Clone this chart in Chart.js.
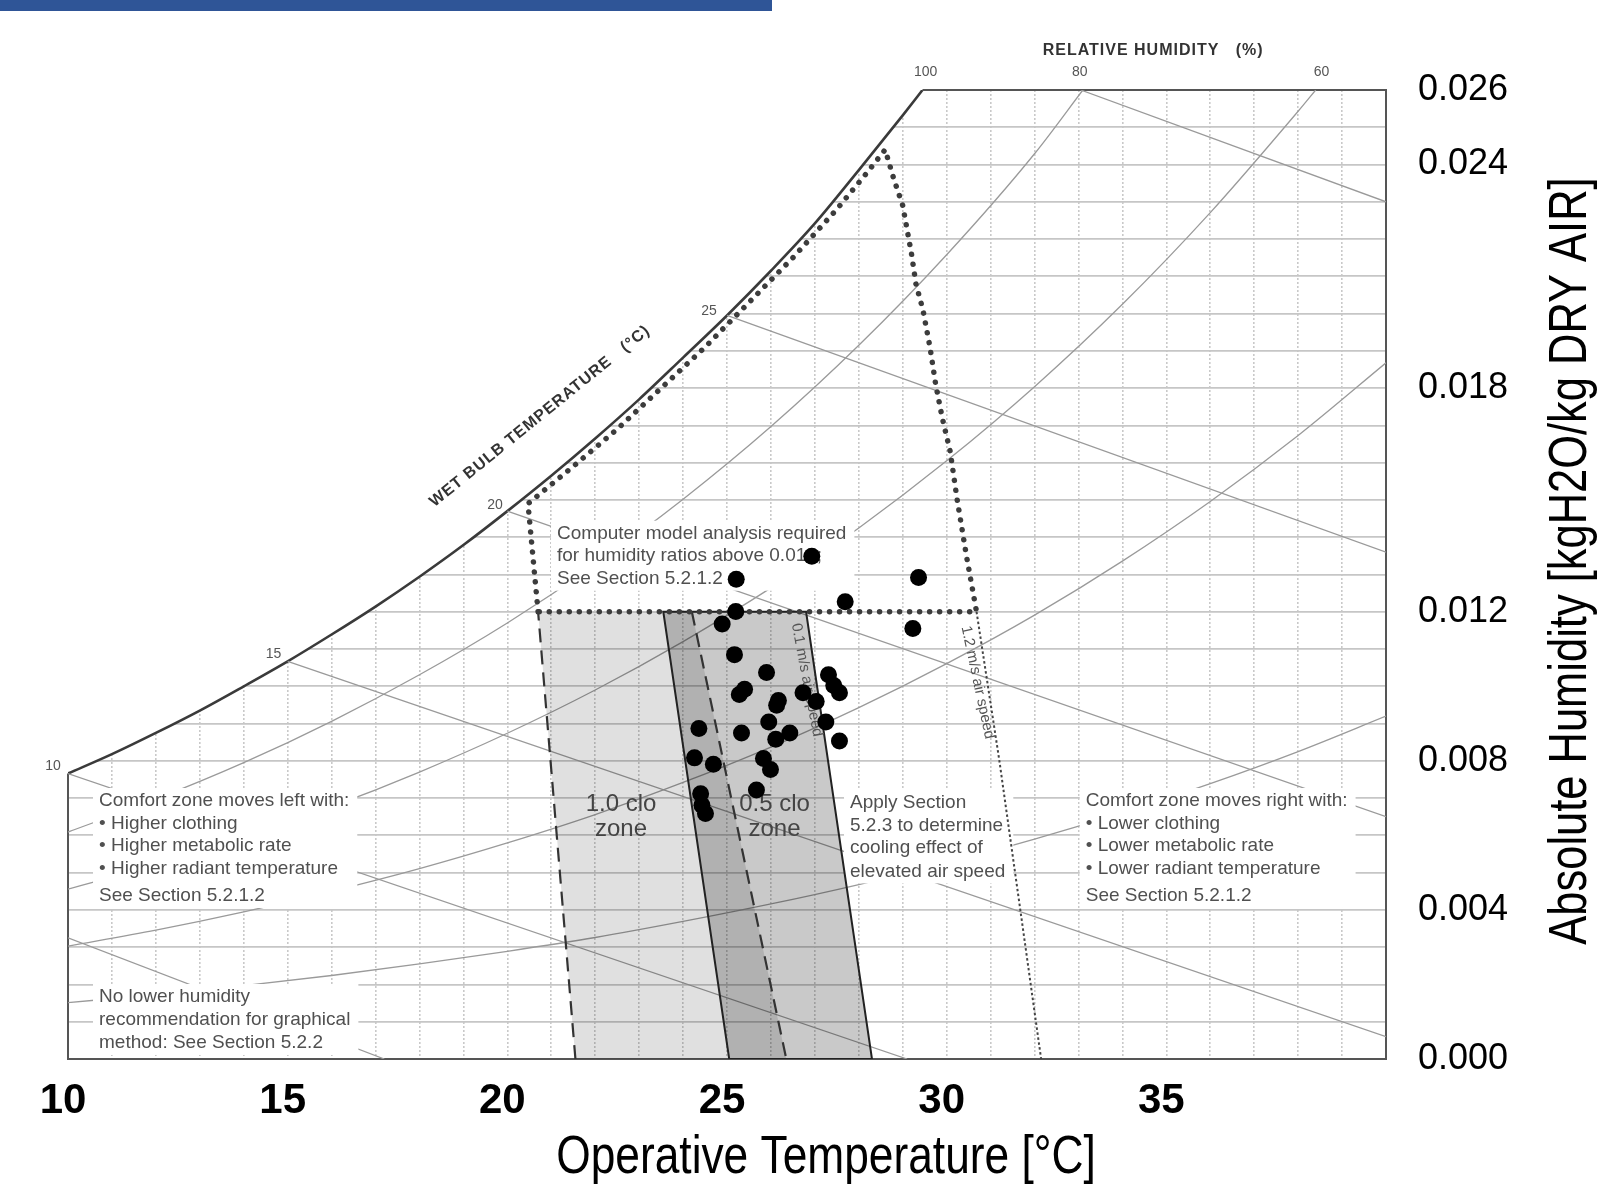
<!DOCTYPE html>
<html>
<head>
<meta charset="utf-8">
<script src="https://cdn.jsdelivr.net/npm/chart.js@4.4.1/dist/chart.umd.min.js"></script>
<style>
  html, body { margin: 0; padding: 0; background: #fff; }
  #wrap { position: relative; width: 1600px; height: 1197px; }
  #bar { position: absolute; left: 0; top: 0; width: 772px; height: 11px; background: #2F5597; }
</style>
</head>
<body>
<div id="wrap">
  <canvas id="psy" width="1600" height="1197"></canvas>
  <div id="bar"></div>
</div>
<script>
// tick labels
const xTickLabels = [10, 15, 20, 25, 30, 35];
const yTickLabels = [0.000, 0.004, 0.008, 0.012, 0.018, 0.024, 0.026];

// saturation line (100 % RH)
const satT = [10, 11, 12, 13, 14, 15, 16, 17, 18, 19, 20, 21, 22, 23, 24, 25, 26, 27, 28, 29, 29.45];
const satW = [0.00766, 0.00818, 0.00875, 0.00935, 0.01000, 0.01067, 0.01139, 0.01214, 0.01294, 0.01379, 0.01470,
              0.01565, 0.01665, 0.01770, 0.01882, 0.01995, 0.02115, 0.02242, 0.02385, 0.02532, 0.02600];

// relative humidity lines
const rh80T = [10, 12, 14, 16, 18, 20, 22, 24, 26, 28, 30, 32, 33.1];
const rh80W = [0.00609, 0.00697, 0.00795, 0.00906, 0.01031, 0.01170, 0.01327, 0.01502, 0.01697, 0.01915, 0.02158, 0.02429, 0.02600];
const rh60T = [10, 12, 14, 16, 18, 20, 22, 24, 26, 28, 30, 32, 34, 36, 38, 38.4];
const rh60W = [0.00456, 0.00521, 0.00595, 0.00677, 0.00770, 0.00874, 0.00990, 0.01120, 0.01264, 0.01425, 0.01605,
               0.01804, 0.02025, 0.02271, 0.02543, 0.02600];
const rh40T = [10, 12, 14, 16, 18, 20, 22, 24, 26, 28, 30, 32, 34, 36, 38, 40];
const rh40W = [0.00303, 0.00346, 0.00395, 0.00450, 0.00511, 0.00580, 0.00656, 0.00742, 0.00837, 0.00943, 0.01061,
               0.01191, 0.01336, 0.01496, 0.01673, 0.01868];
const rh20T = [10, 12, 14, 16, 18, 20, 22, 24, 26, 28, 30, 32, 34, 36, 38, 40];
const rh20W = [0.00151, 0.00173, 0.00197, 0.00224, 0.00255, 0.00289, 0.00326, 0.00369, 0.00416, 0.00468, 0.00526,
               0.00590, 0.00661, 0.00739, 0.00825, 0.00920];

// wet bulb lines 5..30 C, start and end points
const wbT1 = [10, 10, 15, 20, 25, 33.05];
const wbW1 = [0.00325, 0.00766, 0.01067, 0.01470, 0.01995, 0.02600];
const wbT2 = [17.2, 29.1, 40, 40, 40, 40];
const wbW2 = [0, 0, 0.0006, 0.0065, 0.0136, 0.0230];

// comfort zones: bottom-left, top-left, top-right, bottom-right
const clo10T = [21.55, 20.7, 24.2, 26.35];
const clo05T = [25.05, 23.55, 26.8, 28.3];
const zoneW = [0, 0.012, 0.012, 0];

// elevated air speed boundary (heavy dots)
const airT = [20.70, 20.47, 21.5, 22.5, 23.5, 24.5, 25.5, 26.5, 27.5, 28.2, 28.6, 28.8, 29.0, 29.2, 29.3, 29.46,
              29.62, 29.75, 29.9, 30.08, 30.24, 30.45, 30.68, 20.70];
const airW = [0.0120, 0.0149, 0.0159, 0.0169, 0.0180, 0.0191, 0.0203, 0.0215, 0.0228, 0.0238, 0.0244, 0.0236,
              0.0229, 0.0216, 0.0208, 0.0201, 0.0191, 0.0181, 0.0172, 0.0163, 0.0150, 0.0135, 0.0120, 0.0120];
// 1.2 m/s line (fine dots)
const fineT = [30.68, 31.2, 31.7, 32.15];
const fineW = [0.012, 0.008, 0.0038, 0];

// measured conditions
const obsT = [26.93, 25.21, 29.36, 27.69, 25.20, 24.89, 29.23, 25.17, 25.90, 27.31, 27.43, 27.56, 25.40, 25.28, 26.73,
              26.17, 26.13, 27.03, 27.25, 25.95, 25.33, 26.11, 26.43, 27.56, 24.36, 24.26, 24.69, 25.83, 25.99, 25.67,
              24.40, 24.43, 24.51];
const obsW = [0.01349, 0.01287, 0.01292, 0.01227, 0.01201, 0.01167, 0.01155, 0.01085, 0.01037, 0.01031, 0.01002, 0.00983,
              0.00992, 0.00978, 0.00983, 0.00962, 0.00949, 0.00959, 0.00904, 0.00904, 0.00875, 0.00858, 0.00875, 0.00853,
              0.00887, 0.00808, 0.00791, 0.00806, 0.00777, 0.00722, 0.00712, 0.00681, 0.00659];

const SANS = '"Liberation Sans", Arial, sans-serif';
const NOTE_FONT = '19px ' + SANS;

const boxNotes = [
  { t: 10.706, w: 0.006923, dy: [0, 22.5, 45, 68, 95],
    lines: ['Comfort zone moves left with:', '• Higher clothing', '• Higher metabolic rate', '• Higher radiant temperature', 'See Section 5.2.1.2'] },
  { t: 10.706, w: 0.001664, dy: [0, 23, 46],
    lines: ['No lower humidity', 'recommendation for graphical', 'method: See Section 5.2.2'] },
  { t: 21.131, w: 0.014095, dy: [0, 22.5, 45],
    lines: ['Computer model analysis required', 'for humidity ratios above 0.012;', 'See Section 5.2.1.2'] },
  { t: 27.800, w: 0.006869, dy: [0, 22.5, 45, 68.4],
    lines: ['Apply Section', '5.2.3 to determine', 'cooling effect of', 'elevated air speed'] },
  { t: 33.165, w: 0.006923, dy: [0, 22.5, 45, 68, 95],
    lines: ['Comfort zone moves right with:', '• Lower clothing', '• Lower metabolic rate', '• Lower radiant temperature', 'See Section 5.2.1.2'] }
];
const zoneNotes = [
  { t: 22.587, w: 0.006842, lines: ['1.0 clo', 'zone'] },
  { t: 26.081, w: 0.006842, lines: ['0.5 clo', 'zone'] }
];
const speedNotes = [
  { t: 26.814, w: 0.010169, angle: 79, text: '0.1 m/s air speed' },
  { t: 30.702, w: 0.010102, angle: 78, text: '1.2 m/s air speed' }
];
const rhNames = ['100', '80', '60'];
const rhNameT = [29.52, 33.03, 38.53];
const wbNames = ['10', '15', '20', '25'];
const wbNameT = [9.66, 14.68, 19.72, 24.59];
const wbNameW = [0.00785, 0.01087, 0.01487, 0.02007];

const pts = (xs, ys) => xs.map((x, i) => ({ x: x, y: ys[i] }));
const line = (xs, ys, style) => Object.assign({
  data: pts(xs, ys), showLine: true, pointRadius: 0, pointHoverRadius: 0, fill: false,
  borderWidth: 1.3, borderColor: '#9a9a9a', order: 8
}, style);
const closed = a => a.concat([a[0]]);

const datasets = [];
// saturation line, white above it hides the grid
datasets.push(line(satT, satW, { borderWidth: 2.6, borderColor: '#3a3a3a', fill: 'end', backgroundColor: '#ffffff',
  cubicInterpolationMode: 'monotone', order: 10 }));
// frame
datasets.push(line([10, 10, 40, 40, 29.45], [satW[0], 0, 0, 0.026, 0.026], { borderWidth: 2, borderColor: '#555', clip: false, order: 9 }));
[[rh80T, rh80W], [rh60T, rh60W], [rh40T, rh40W], [rh20T, rh20W]].forEach(c =>
  datasets.push(line(c[0], c[1], { cubicInterpolationMode: 'monotone' })));
wbT1.forEach((t, i) => datasets.push(line([t, wbT2[i]], [wbW1[i], wbW2[i]])));
// marker: white note boxes go here
datasets.push({ data: [], hook: 'boxes', order: 7.5 });
datasets.push(line(closed(clo10T), closed(zoneW), { borderWidth: 0, fill: 'shape', backgroundColor: 'rgba(0,0,0,0.12)', order: 7 }));
datasets.push(line(closed(clo05T), closed(zoneW), { borderWidth: 2, borderColor: '#222', fill: 'shape', backgroundColor: 'rgba(0,0,0,0.21)', order: 6 }));
datasets.push(line(clo10T.slice(0, 2), zoneW.slice(0, 2), { borderWidth: 2.2, borderColor: '#333', borderDash: [14, 8], order: 5 }));
datasets.push(line(clo10T.slice(2), zoneW.slice(2), { borderWidth: 2.2, borderColor: '#333', borderDash: [14, 8], order: 5 }));
datasets.push(line(airT, airW, { borderWidth: 5.5, borderColor: '#3c3c3c', borderDash: [0.01, 10], borderCapStyle: 'round', order: 4 }));
datasets.push(line(fineT, fineW, { borderWidth: 2, borderColor: '#444', borderDash: [2.5, 2.5], order: 4 }));
// marker: zone texts go here
datasets.push({ data: [], hook: 'zoneText', order: 3.5 });
datasets.push({ data: pts(obsT, obsW), showLine: false, pointRadius: 8.5, pointHoverRadius: 8.5,
  pointBackgroundColor: '#000', pointBorderWidth: 0, order: 1 });

function at(chart, t, w) {
  return [chart.scales.x.getPixelForValue(t), chart.scales.y.getPixelForValue(w)];
}

function drawBoxes(chart) {
  const ctx = chart.ctx;
  boxNotes.forEach(n => {
    const [x, y] = at(chart, n.t, n.w);
    ctx.save();
    ctx.font = NOTE_FONT;
    ctx.textBaseline = 'middle';
    ctx.textAlign = 'left';
    const maxW = Math.max.apply(null, n.lines.map(s => ctx.measureText(s).width));
    ctx.fillStyle = '#ffffff';
    ctx.fillRect(x - 6, y - 13, maxW + 14, n.dy[n.dy.length - 1] + 25);
    ctx.fillStyle = '#505050';
    n.lines.forEach((s, i) => ctx.fillText(s, x, y + n.dy[i]));
    ctx.restore();
  });
}

function drawZoneText(chart) {
  const ctx = chart.ctx;
  ctx.save();
  ctx.textBaseline = 'middle';
  ctx.textAlign = 'center';
  ctx.fillStyle = '#444';
  ctx.font = '24px ' + SANS;
  zoneNotes.forEach(n => {
    const [x, y] = at(chart, n.t, n.w);
    n.lines.forEach((s, i) => ctx.fillText(s, x, y + i * 25));
  });
  ctx.font = '15px ' + SANS;
  ctx.fillStyle = '#555';
  speedNotes.forEach(n => {
    const [x, y] = at(chart, n.t, n.w);
    ctx.save();
    ctx.translate(x, y);
    ctx.rotate(n.angle * Math.PI / 180);
    ctx.fillText(n.text, 0, 0);
    ctx.restore();
  });
  ctx.restore();
}

// condensed text: Arial squeezed sideways
function narrowText(ctx, s, x, y, size, angle) {
  ctx.save();
  ctx.translate(x, y);
  ctx.rotate(angle);
  ctx.scale(0.82, 1);
  ctx.font = size + 'px ' + SANS;
  ctx.fillText(s, 0, 0);
  ctx.restore();
}

const notesPlugin = {
  id: 'notes',
  afterDatasetDraw(chart, args) {
    const ds = chart.data.datasets[args.index];
    if (ds.hook === 'boxes') drawBoxes(chart);
    if (ds.hook === 'zoneText') drawZoneText(chart);
  },
  afterDraw(chart) {
    const ctx = chart.ctx;
    ctx.save();
    ctx.textBaseline = 'middle';
    ctx.textAlign = 'center';
    // relative humidity labels
    ctx.fillStyle = '#333';
    ctx.font = 'bold 16px ' + SANS;
    ctx.letterSpacing = '1px';
    let p = at(chart, 34.70, 0.02707);
    ctx.fillText('RELATIVE HUMIDITY   (%)', p[0], p[1]);
    // wet bulb title
    p = at(chart, 20.74, 0.017245);
    ctx.save();
    ctx.translate(p[0], p[1]);
    ctx.rotate(-39 * Math.PI / 180);
    ctx.fillText('WET BULB TEMPERATURE   (\u00B0C)', 0, 0);
    ctx.restore();
    ctx.letterSpacing = '0px';
    ctx.fillStyle = '#555';
    ctx.font = '14px ' + SANS;
    rhNames.forEach((s, i) => { const q = at(chart, rhNameT[i], 0.026475); ctx.fillText(s, q[0], q[1]); });
    wbNames.forEach((s, i) => { const q = at(chart, wbNameT[i], wbNameW[i]); ctx.fillText(s, q[0], q[1]); });
    // axis titles
    ctx.fillStyle = '#000';
    narrowText(ctx, 'Operative Temperature [\u00B0C]', 826, 1158, 54, 0);
    narrowText(ctx, 'Absolute Humidity [kgH2O/kg DRY AIR]', 1571, 561, 53, -Math.PI / 2);
    ctx.restore();
  }
};

const hideEdge = (v, a, b) => Math.abs(v - a) < 1e-7 || Math.abs(v - b) < 1e-7;

new Chart(document.getElementById('psy'), {
  type: 'scatter',
  data: { datasets: datasets },
  options: {
    responsive: false,
    animation: false,
    devicePixelRatio: 1,
    layout: { padding: { left: 68, top: 90, right: 0, bottom: 0 } },
    plugins: { legend: { display: false }, tooltip: { enabled: false } },
    scales: {
      x: {
        type: 'linear', min: 10, max: 40,
        afterFit: s => { s.height = 138; },
        grid: { color: c => hideEdge(c.tick.value, 10, 40) ? 'rgba(0,0,0,0)' : '#c9c9c9', lineWidth: 1.6, drawTicks: false },
        border: { display: false, dash: [2, 2] },
        ticks: {
          stepSize: 1, autoSkip: false, maxRotation: 0, padding: 17, labelOffset: -5, color: '#000',
          font: { family: SANS, size: 42, weight: 'bold' },
          callback: v => xTickLabels.includes(v) ? String(v) : ''
        }
      },
      y: {
        type: 'linear', position: 'right', min: 0, max: 0.026,
        afterFit: s => { s.width = 214; },
        grid: { color: c => hideEdge(c.tick.value, 0, 0.026) ? 'rgba(0,0,0,0)' : '#c6c6c6', lineWidth: 1.8, drawTicks: false },
        border: { display: false },
        ticks: {
          stepSize: 0.001, autoSkip: false, padding: 32, color: '#000',
          font: { family: SANS, size: 36 },
          callback: v => yTickLabels.some(t => Math.abs(t - v) < 1e-7) ? v.toFixed(3) : ''
        }
      }
    }
  },
  plugins: [notesPlugin]
});
</script>
</body>
</html>
